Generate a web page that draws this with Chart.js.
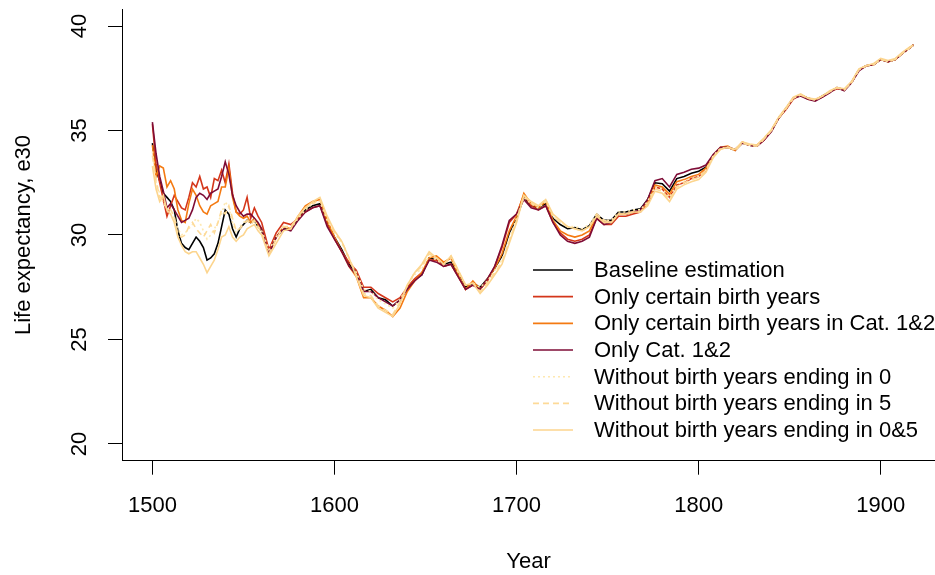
<!DOCTYPE html>
<html>
<head>
<meta charset="utf-8">
<script src="https://cdn.jsdelivr.net/npm/chart.js@4.4.1/dist/chart.umd.min.js"></script>
<style>
html,body{margin:0;padding:0;background:#fff;overflow:hidden;}
#wrap{width:935px;height:575px;}
</style>
</head>
<body>
<div id="wrap"><canvas id="c" width="935" height="575"></canvas></div>
<script>
// ---------------- DATA ----------------
const years = [
 1500,1502,1504,1506,1508,1510,1512,1514,1516,1518,1520,1522,1524,1526,1528,1530,
 1532,1534,1536,1538,1540,1542,1544,1546,1548,1550,1552,1554,1556,1558,1560,
 1564,1568,1572,1576,1580,1584,1588,1592,1596,1600,
 1604,1608,1612,1616,1620,1624,1628,1632,1636,1640,
 1644,1648,1652,1656,1660,1664,1668,1672,1676,1680,
 1684,1688,1692,1696,1700,1704,1708,1712,1716,1720,
 1724,1728,1732,1736,1740,1744,1748,1752,1756,1760,
 1764,1768,1772,1776,1780,1784,1788,1792,1796,1800,
 1804,1808,1812,1816,1820,1824,1828,1832,1836,1840,
 1844,1848,1852,1856,1860,1864,1868,1872,1876,1880,
 1884,1888,1892,1896,1900,1904,1908,1912,1916,1918
];

const baseline = [
 34.4,33.1,32.6,32.0,31.8,31.6,31.2,30.2,29.6,29.4,29.3,29.6,29.9,29.7,29.4,28.8,
 28.9,29.1,29.6,30.4,31.2,31.0,30.3,29.9,30.3,30.5,30.7,30.6,30.7,30.4,30.2,
 29.2,29.9,30.3,30.3,30.8,31.2,31.4,31.5,30.6,29.9,
 29.3,28.6,28.2,27.3,27.4,27.0,26.9,26.6,26.9,27.5,
 27.85,28.1,28.9,28.8,28.6,28.7,28.1,27.5,27.7,27.5,
 27.9,28.4,29.0,30.1,30.8,31.8,31.4,31.3,31.5,30.8,
 30.5,30.3,30.35,30.25,30.45,31.0,30.7,30.7,31.1,31.1,
 31.2,31.25,31.7,32.5,32.45,32.1,32.7,32.8,32.95,33.05,
 33.25,33.8,34.15,34.2,34.05,34.4,34.3,34.25,34.6,35.0,
 35.6,36.05,36.55,36.7,36.55,36.45,36.65,36.85,37.05,36.95,
 37.3,37.9,38.1,38.15,38.4,38.3,38.4,38.7,38.95,39.1
];

const onlyCertain = [
 35.3,33.4,32.5,31.7,30.9,31.4,31.9,31.6,31.3,31.2,31.8,32.5,32.3,32.8,32.2,32.3,
 31.8,32.7,32.6,33.1,32.5,33.4,32.0,31.1,31.0,31.2,31.8,30.8,31.3,30.9,30.6,
 29.3,30.1,30.6,30.5,30.8,31.1,31.3,31.4,30.5,29.8,
 29.2,28.7,28.3,27.5,27.5,27.2,27.0,26.8,27.0,27.5,
 27.9,28.2,28.8,28.8,28.5,28.6,28.0,27.4,27.6,27.4,
 27.8,28.5,29.4,30.6,31.0,31.9,31.4,31.2,31.4,30.6,
 30.1,29.8,29.7,29.8,30.0,30.8,30.5,30.5,30.9,30.9,
 31.0,31.1,31.5,32.3,32.2,31.8,32.4,32.5,32.7,32.8,
 33.1,33.8,34.15,34.2,34.05,34.4,34.3,34.25,34.55,35.0,
 35.6,36.0,36.5,36.7,36.55,36.45,36.6,36.85,37.0,36.95,
 37.3,37.9,38.1,38.15,38.4,38.3,38.4,38.7,38.95,39.1
];

const onlyCertainCat12 = [
 34.3,32.8,33.3,33.2,32.3,32.6,32.2,31.2,30.7,30.6,31.5,32.2,31.9,31.4,31.1,31.0,
 31.4,31.5,31.6,32.3,32.3,33.2,31.8,31.1,30.9,30.8,30.9,30.6,30.8,30.5,30.3,
 29.1,29.9,30.4,30.3,30.9,31.4,31.6,31.7,30.7,29.9,
 29.2,28.5,28.0,27.0,27.0,26.6,26.4,26.1,26.5,27.3,
 27.8,28.2,28.9,29.0,28.7,28.9,28.1,27.4,27.8,27.4,
 27.9,28.4,29.1,30.2,30.9,32.0,31.5,31.3,31.6,30.7,
 30.2,30.0,29.9,30.0,30.2,30.9,30.6,30.6,31.0,31.0,
 31.1,31.15,31.6,32.4,32.3,31.95,32.55,32.65,32.8,32.9,
 33.2,33.8,34.2,34.25,34.05,34.45,34.3,34.3,34.6,35.0,
 35.6,36.05,36.55,36.7,36.5,36.45,36.65,36.85,37.05,36.95,
 37.3,37.9,38.1,38.15,38.4,38.3,38.4,38.7,38.95,39.1
];

const onlyCat12 = [
 35.4,33.9,32.8,32.1,31.3,31.5,31.2,30.9,30.6,30.7,30.8,31.2,31.8,32.0,31.9,31.7,
 32.0,32.1,32.2,32.8,33.5,32.9,31.9,31.4,31.1,30.9,31.0,31.0,30.8,30.6,30.3,
 29.1,29.9,30.3,30.2,30.7,31.1,31.3,31.4,30.4,29.8,
 29.2,28.5,28.1,27.3,27.3,27.0,26.8,26.6,26.9,27.4,
 27.8,28.1,28.8,28.7,28.5,28.6,28.0,27.4,27.6,27.4,
 27.9,28.5,29.5,30.7,31.0,31.7,31.3,31.2,31.4,30.6,
 30.0,29.7,29.6,29.7,29.9,30.8,30.5,30.6,31.0,31.0,
 31.1,31.2,31.7,32.6,32.7,32.3,32.9,33.0,33.15,33.2,
 33.35,33.85,34.2,34.2,34.1,34.4,34.3,34.25,34.55,34.95,
 35.6,36.05,36.55,36.65,36.5,36.4,36.6,36.8,37.05,36.9,
 37.3,37.85,38.1,38.15,38.4,38.3,38.4,38.7,38.95,39.1
];

const without0 = [
 34.0,32.5,32.0,31.5,31.3,31.0,30.8,30.3,30.0,30.1,30.3,30.5,30.8,30.6,30.2,29.8,
 30.0,30.3,30.6,31.0,31.6,31.3,30.6,30.1,30.4,30.6,30.7,30.6,30.7,30.4,30.2,
 29.3,29.9,30.4,30.3,30.8,31.2,31.5,31.6,30.7,30.1,
 29.6,28.8,28.2,27.4,27.3,26.9,26.7,26.5,26.9,27.6,
 28.1,28.4,29.0,28.8,28.6,28.9,28.2,27.6,27.7,27.5,
 27.8,28.3,28.8,29.8,30.8,31.8,31.5,31.3,31.6,30.9,
 30.6,30.4,30.4,30.3,30.5,31.0,30.7,30.7,31.1,31.1,
 31.2,31.2,31.6,32.3,32.2,31.8,32.4,32.6,32.7,32.8,
 33.1,33.8,34.15,34.2,34.05,34.4,34.3,34.25,34.6,35.0,
 35.6,36.05,36.55,36.7,36.55,36.45,36.65,36.85,37.05,36.95,
 37.3,37.9,38.1,38.15,38.4,38.3,38.4,38.7,38.95,39.1
];

const without5 = [
 33.8,32.6,31.8,31.7,31.2,31.2,30.9,30.0,29.9,30.0,30.4,30.6,30.3,30.1,29.9,30.2,
 30.5,30.1,30.6,31.2,31.0,31.4,30.8,30.2,30.3,30.5,30.7,30.5,30.7,30.4,30.1,
 29.1,29.8,30.4,30.4,30.9,31.3,31.5,31.7,30.8,30.1,
 29.7,28.9,28.1,27.2,27.1,26.6,26.4,26.2,26.8,27.6,
 28.2,28.5,29.1,28.9,28.6,29.0,28.3,27.6,27.7,27.3,
 27.7,28.2,28.7,29.7,30.7,31.9,31.5,31.4,31.7,30.9,
 30.6,30.4,30.3,30.2,30.4,31.0,30.7,30.6,31.0,31.0,
 31.1,31.1,31.5,32.2,32.1,31.7,32.3,32.5,32.65,32.75,
 33.1,33.75,34.1,34.2,34.05,34.4,34.3,34.25,34.6,35.0,
 35.6,36.05,36.55,36.7,36.55,36.45,36.65,36.85,37.05,36.95,
 37.3,37.9,38.1,38.15,38.4,38.3,38.4,38.7,38.95,39.1
];

const without0and5 = [
 33.3,32.2,31.6,31.9,31.2,31.0,30.6,29.9,29.5,29.2,29.1,29.2,29.2,28.9,28.6,28.2,
 28.5,28.8,29.3,29.9,30.0,30.4,29.9,29.7,29.9,30.0,30.3,30.4,30.5,30.2,30.0,
 29.0,29.6,30.2,30.3,30.9,31.3,31.6,31.8,30.9,30.2,
 29.7,28.9,28.0,27.1,27.0,26.5,26.3,26.1,26.7,27.6,
 28.2,28.6,29.2,28.9,28.6,29.0,28.3,27.6,27.7,27.2,
 27.6,28.1,28.6,29.6,30.6,31.9,31.6,31.4,31.7,31.0,
 30.7,30.4,30.3,30.2,30.4,30.9,30.6,30.6,31.0,31.0,
 31.1,31.1,31.4,32.1,32.0,31.6,32.2,32.4,32.55,32.65,
 33.0,33.7,34.1,34.2,34.1,34.45,34.35,34.3,34.65,35.05,
 35.65,36.1,36.6,36.75,36.55,36.5,36.65,36.9,37.05,37.0,
 37.35,37.95,38.1,38.2,38.45,38.35,38.45,38.75,39.0,39.1
];

const seriesLabels = [
 'Baseline estimation',
 'Only certain birth years',
 'Only certain birth years in Cat. 1&2',
 'Only Cat. 1&2',
 'Without birth years ending in 0',
 'Without birth years ending in 5',
 'Without birth years ending in 0&5'
];
const xTickValues = [1500, 1600, 1700, 1800, 1900];
const yTickValues = [20, 25, 30, 35, 40];
const xTitle = 'Year';
const yTitle = 'Life expectancy, e30';

// ---------------- STYLE ----------------
const seriesValues = [baseline, onlyCertain, onlyCertainCat12, onlyCat12, without0, without5, without0and5];
const colors = ['#000000', '#D4361A', '#F47A12', '#7E0C36', '#FEE8B0', '#FDDA98', '#FCD58E'];
const dashes = [[], [], [], [], [2, 3], [6, 4], []];
const FONT = '"Liberation Sans", Arial, sans-serif';

const datasets = seriesValues.map((vals, i) => ({
  label: seriesLabels[i],
  data: years.map((y, k) => ({x: y, y: vals[k]})),
  borderColor: colors[i],
  borderDash: dashes[i],
  borderWidth: 1.6,
  pointRadius: 0,
  fill: false,
  tension: 0,
  order: seriesValues.length - i
}));

const legendPlugin = {
  id: 'rLegend',
  afterDraw(chart) {
    const ctx = chart.ctx;
    const x0 = 533, x1 = 573, tx = 594, y0 = 270, dy = 26.67;
    ctx.save();
    ctx.font = '22px ' + FONT;
    ctx.textBaseline = 'middle';
    ctx.textAlign = 'left';
    chart.data.datasets.forEach((ds, i) => {
      const y = y0 + i * dy;
      ctx.strokeStyle = ds.borderColor;
      ctx.lineWidth = ds.borderWidth;
      ctx.setLineDash(ds.borderDash || []);
      ctx.beginPath();
      ctx.moveTo(x0, y);
      ctx.lineTo(x1, y);
      ctx.stroke();
      ctx.setLineDash([]);
      ctx.fillStyle = '#000';
      ctx.fillText(ds.label, tx, y + 1);
    });
    ctx.restore();
  }
};

function zeroPad(s) { s.paddingTop = 0; s.paddingBottom = 0; s.paddingLeft = 0; s.paddingRight = 0; }

new Chart(document.getElementById('c'), {
  type: 'line',
  data: {datasets},
  options: {
    responsive: false,
    animation: false,
    devicePixelRatio: 1,
    layout: {padding: {top: 9.3, left: 0, right: 0, bottom: 0}},
    plugins: {legend: {display: false}, tooltip: {enabled: false}},
    scales: {
      x: {
        type: 'linear',
        min: 1483.3,
        max: 1929.8,
        afterBuildTicks: s => { s.ticks = xTickValues.map(v => ({value: v})); },
        afterFit: s => { s.height = 114.3; zeroPad(s); },
        grid: {drawOnChartArea: false, drawTicks: true, tickLength: 14, color: '#000', lineWidth: 1},
        border: {display: true, color: '#000', width: 1},
        ticks: {color: '#000', font: {family: FONT, size: 22}, padding: 18, maxRotation: 0, autoSkip: false,
                callback: v => String(v)},
        title: {display: true, text: xTitle, color: '#000', font: {family: FONT, size: 22}, padding: {top: 0, bottom: 0}}
      },
      y: {
        type: 'linear',
        min: 19.2,
        max: 40.8,
        afterBuildTicks: s => { s.ticks = yTickValues.map(v => ({value: v})); },
        afterFit: s => { s.width = 122; zeroPad(s); },
        grid: {drawOnChartArea: false, drawTicks: true, tickLength: 14, color: '#000', lineWidth: 1},
        border: {display: true, color: '#000', width: 1},
        ticks: {color: '#000', font: {family: FONT, size: 22}, padding: 16, minRotation: 90, maxRotation: 90,
                crossAlign: 'center', autoSkip: false, callback: v => String(v)},
        title: {display: true, text: yTitle, color: '#000', font: {family: FONT, size: 22}, padding: {top: 11, bottom: 0}}
      }
    }
  },
  plugins: [legendPlugin]
});
</script>
</body>
</html>
